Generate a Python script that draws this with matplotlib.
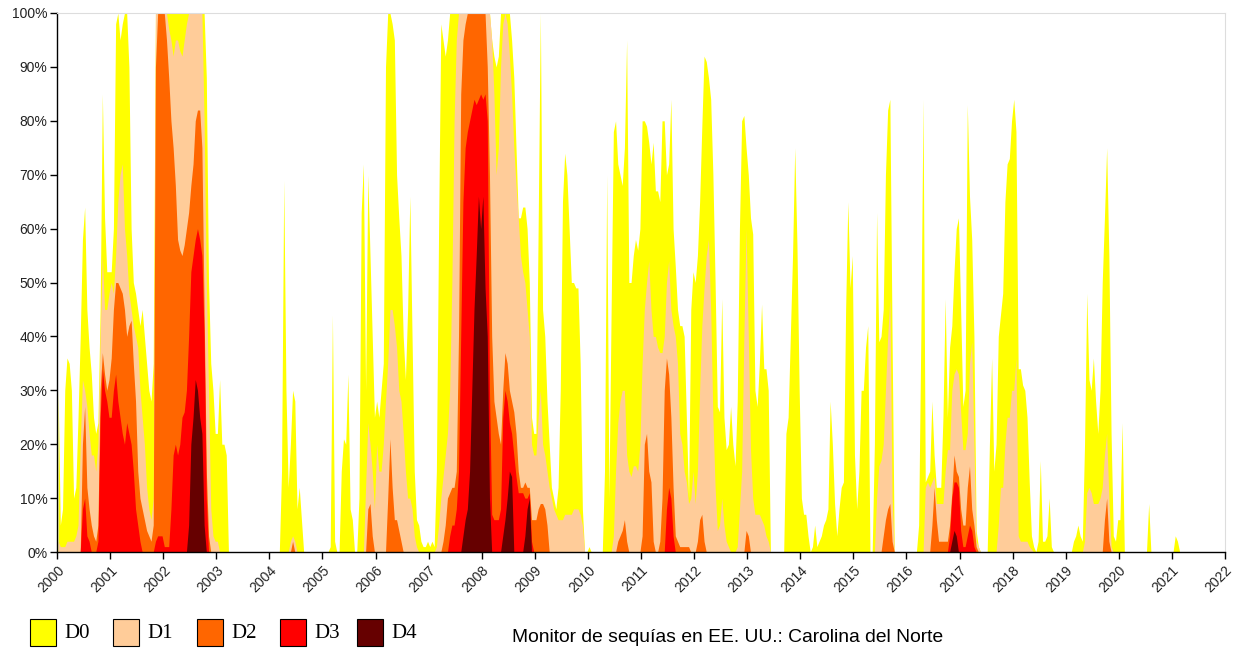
import numpy as np
import matplotlib
matplotlib.use("Agg")
from matplotlib import pyplot as plt
from matplotlib.patches import Rectangle

first_year = 2000
year_ticks = list(range(2000, 2023))
Z = [0] * 24

# % of North Carolina in drought category or worse, two readings per month (one row per year)
d0_rows = [
    [30, 5, 8, 30, 36, 35, 30, 10, 12, 25, 40, 58, 64, 45, 38, 33, 25, 22, 24, 45, 85, 62, 52, 52],  # 2000
    [52, 60, 98, 100, 95, 98, 100, 100, 90, 60, 50, 48, 45, 42, 45, 40, 35, 30, 28, 35, 100, 100, 100, 100],
    [100, 100, 100, 100, 100, 100, 100, 100, 100, 100, 100, 100, 100, 100, 100, 100, 100, 100, 100, 88, 50, 35, 30, 22],
    [22, 32, 20, 20, 18, 0, 0, 0, 0, 0, 0, 0, 0, 0, 0, 0, 0, 0, 0, 0, 0, 0, 0, 0],
    [0, 0, 0, 0, 0, 15, 69, 30, 12, 20, 30, 28, 8, 12, 6, 0, 0, 0, 0, 0, 0, 0, 0, 0],
    [0, 0, 0, 1, 44, 2, 0, 0, 15, 21, 20, 33, 8, 6, 0, 0, 10, 63, 72, 30, 70, 55, 40, 25],  # 2005
    [28, 25, 30, 35, 90, 100, 100, 98, 95, 70, 62, 55, 40, 32, 45, 66, 40, 15, 6, 5, 2, 1, 1, 2],
    [1, 2, 1, 15, 60, 98, 95, 92, 95, 100, 100, 100, 100, 100, 100, 100, 100, 100, 100, 100, 100, 100, 100, 100],
    [100, 100, 100, 100, 95, 92, 90, 92, 100, 100, 100, 100, 100, 95, 88, 75, 62, 62, 64, 64, 60, 50, 25, 22],
    [22, 60, 100, 45, 40, 28, 20, 12, 10, 8, 12, 30, 65, 74, 70, 60, 50, 50, 49, 49, 35, 8, 0, 0],
    [1, 0, 0, 0, 0, 0, 0, 15, 70, 10, 45, 78, 80, 72, 70, 68, 75, 95, 50, 50, 55, 58, 56, 60],  # 2010
    [80, 80, 79, 76, 72, 76, 67, 67, 65, 80, 80, 70, 72, 84, 60, 53, 45, 42, 42, 40, 25, 10, 45, 52],
    [50, 55, 65, 79, 92, 91, 88, 84, 70, 50, 27, 26, 47, 25, 19, 20, 27, 20, 16, 28, 60, 80, 81, 75],
    [70, 62, 59, 30, 27, 35, 46, 34, 34, 30, 0, 0, 0, 0, 0, 0, 0, 22, 25, 40, 55, 75, 57, 30],
    [10, 7, 7, 3, 0, 1, 5, 1, 2, 3, 5, 6, 8, 28, 20, 9, 3, 8, 12, 13, 45, 65, 49, 55],
    [18, 8, 15, 30, 30, 38, 42, 0, 0, 20, 63, 39, 40, 45, 70, 82, 84, 40, 0, 0, 0, 0, 0, 0],  # 2015
    [0, 0, 0, 0, 0, 5, 40, 84, 13, 14, 15, 28, 18, 12, 12, 12, 25, 47, 25, 38, 42, 52, 60, 62],
    [45, 27, 30, 83, 66, 58, 40, 4, 1, 0, 0, 0, 0, 20, 36, 15, 20, 40, 44, 48, 65, 72, 73, 80],
    [84, 78, 34, 34, 31, 30, 25, 13, 3, 1, 0, 2, 17, 2, 2, 3, 10, 1, 0, 0, 0, 0, 0, 0],
    [0, 0, 0, 2, 3, 5, 3, 2, 20, 48, 32, 30, 36, 28, 22, 30, 50, 62, 75, 55, 22, 3, 2, 6],
    [6, 24, 0, 0, 0, 0, 0, 0, 0, 0, 0, 0, 0, 9, 0, 0, 0, 0, 0, 0, 0, 0, 0, 0],  # 2020
    [0, 3, 2, 0, 0, 0, 0, 0, 0, 0, 0, 0, 0, 0, 0, 0, 0, 0, 0, 0, 0, 0, 0, 0],
]

d1_rows = [
    [2, 1, 1, 1, 2, 2, 2, 2, 3, 5, 20, 32, 30, 27, 22, 18, 18, 15, 20, 40, 55, 45, 45, 48],  # 2000
    [50, 48, 55, 65, 70, 72, 60, 55, 48, 45, 42, 40, 38, 30, 25, 20, 12, 8, 6, 10, 100, 100, 100, 100],
    [100, 100, 97, 95, 92, 95, 95, 93, 92, 95, 98, 100, 100, 100, 100, 100, 100, 100, 80, 50, 30, 8, 3, 2],
    [2, 0, 0, 0, 0, 0, 0, 0, 0, 0, 0, 0, 0, 0, 0, 0, 0, 0, 0, 0, 0, 0, 0, 0],
    [0, 0, 0, 0, 0, 0, 0, 0, 0, 2, 3, 2, 0, 0, 0, 0, 0, 0, 0, 0, 0, 0, 0, 0],
    [0, 0, 0, 0, 0, 0, 0, 0, 0, 0, 0, 0, 0, 0, 0, 0, 0, 0, 0, 12, 24, 20, 15, 8],  # 2005
    [20, 15, 15, 20, 28, 35, 45, 45, 42, 38, 30, 28, 22, 15, 10, 10, 8, 3, 1, 0, 0, 0, 0, 0],
    [0, 0, 0, 1, 5, 10, 14, 18, 22, 30, 50, 80, 95, 100, 100, 100, 100, 100, 100, 100, 100, 100, 100, 100],
    [100, 100, 100, 100, 95, 85, 70, 75, 90, 98, 100, 98, 92, 85, 75, 68, 62, 55, 52, 50, 45, 40, 20, 18],
    [18, 25, 30, 20, 18, 15, 12, 10, 8, 7, 6, 6, 6, 7, 7, 7, 7, 8, 8, 8, 7, 5, 0, 0],
    [0, 0, 0, 0, 0, 0, 0, 0, 0, 0, 0, 3, 15, 24, 28, 30, 30, 18, 15, 14, 16, 16, 15, 20],  # 2010
    [35, 45, 50, 54, 45, 40, 40, 38, 37, 37, 40, 50, 54, 45, 42, 40, 35, 22, 20, 15, 13, 9, 10, 15],
    [9, 15, 30, 42, 49, 55, 58, 45, 25, 12, 4, 5, 10, 5, 2, 1, 0, 0, 0, 1, 8, 15, 40, 60],
    [40, 19, 10, 7, 7, 7, 6, 5, 3, 2, 0, 0, 0, 0, 0, 0, 0, 0, 0, 0, 0, 0, 0, 0],
    Z,
    [0, 0, 0, 0, 0, 0, 0, 0, 0, 0, 10, 16, 17, 20, 30, 40, 47, 10, 0, 0, 0, 0, 0, 0],  # 2015
    [0, 0, 0, 0, 0, 0, 0, 0, 12, 13, 12, 13, 14, 9, 9, 9, 9, 15, 19, 19, 30, 33, 34, 33],
    [26, 19, 19, 22, 35, 39, 20, 2, 1, 0, 0, 0, 0, 0, 0, 0, 0, 5, 12, 12, 20, 25, 25, 30],
    [30, 36, 3, 2, 2, 2, 2, 1, 0.5, 0, 0, 0, 0, 0, 0, 0, 0, 0, 0, 0, 0, 0, 0, 0],
    [0, 0, 0, 0, 0, 0, 0, 0, 2, 11, 12, 11, 9, 9, 9, 10, 12, 18, 22, 10, 1, 0, 0, 0],
    Z,  # 2020
    Z,
]

d2_rows = [
    [0, 0, 0, 0, 0, 0, 0, 0, 0, 0, 0, 20, 27, 12, 8, 5, 3, 2, 5, 30, 37, 33, 30, 32],  # 2000
    [36, 45, 50, 50, 49, 48, 45, 40, 42, 43, 35, 28, 15, 10, 8, 6, 4, 3, 2, 5, 90, 100, 100, 100],
    [100, 95, 88, 80, 75, 68, 58, 56, 55, 57, 60, 63, 68, 72, 80, 82, 82, 75, 45, 15, 3, 0, 0, 0],
    Z,
    [0, 0, 0, 0, 0, 0, 0, 0, 0, 0, 2, 0, 0, 0, 0, 0, 0, 0, 0, 0, 0, 0, 0, 0],
    [0, 0, 0, 0, 0, 0, 0, 0, 0, 0, 0, 0, 0, 0, 0, 0, 0, 0, 0, 0, 8, 9, 3, 0],  # 2005
    [0, 0, 0, 0, 0, 10, 21, 12, 6, 6, 4, 2, 0, 0, 0, 0, 0, 0, 0, 0, 0, 0, 0, 0],
    [0, 0, 0, 0, 0, 0, 2, 5, 10, 11, 12, 12, 15, 40, 85, 95, 98, 100, 100, 100, 100, 100, 100, 100],
    [100, 100, 90, 70, 40, 28, 25, 22, 20, 30, 37, 35, 30, 28, 26, 22, 15, 12, 12, 13, 12, 12, 6, 6],
    [6, 8, 9, 9, 8, 5, 0, 0, 0, 0, 0, 0, 0, 0, 0, 0, 0, 0, 0, 0, 0, 0, 0, 0],
    [0, 0, 0, 0, 0, 0, 0, 0, 0, 0, 0, 0, 0, 2, 3, 4, 6, 2, 0, 0, 0, 0, 0, 0],  # 2010
    [3, 20, 22, 15, 13, 2, 0, 0, 2, 10, 30, 36, 33, 25, 12, 3, 2, 1, 1, 1, 1, 1, 0, 0],
    [0, 2, 6, 7, 2, 0, 0, 0, 0, 0, 0, 0, 0, 0, 0, 0, 0, 0, 0, 0, 0, 0, 0, 4],
    [3, 0, 0, 0, 0, 0, 0, 0, 0, 0, 0, 0, 0, 0, 0, 0, 0, 0, 0, 0, 0, 0, 0, 0],
    Z,
    [0, 0, 0, 0, 0, 0, 0, 0, 0, 0, 0, 0, 0, 3, 6, 8, 9, 2, 0, 0, 0, 0, 0, 0],  # 2015
    [0, 0, 0, 0, 0, 0, 0, 0, 0, 0, 0, 5, 12, 6, 2, 2, 2, 2, 2, 5, 11, 18, 15, 14],
    [8, 5, 5, 12, 16, 8, 5, 1, 0, 0, 0, 0, 0, 0, 0, 0, 0, 0, 0, 0, 0, 0, 0, 0],
    Z,
    [0, 0, 0, 0, 0, 0, 0, 0, 0, 0, 0, 0, 0, 0, 0, 0, 0, 6, 10, 2, 0, 0, 0, 0],
    Z,  # 2020
    Z,
]

d3_rows = [
    [0, 0, 0, 0, 0, 0, 0, 0, 0, 0, 0, 8, 10, 3, 2, 0, 0, 0, 2, 25, 34, 30, 28, 25],  # 2000
    [25, 30, 33, 28, 25, 22, 20, 24, 22, 20, 15, 8, 5, 2, 0, 0, 0, 0, 0, 0, 2, 3, 3, 3],
    [1, 1, 1, 8, 18, 20, 18, 20, 25, 26, 30, 40, 52, 55, 58, 60, 58, 55, 40, 10, 0, 0, 0, 0],
    Z, Z, Z, Z,
    [0, 0, 0, 0, 0, 0, 0, 0, 0, 3, 5, 5, 8, 15, 40, 65, 75, 78, 80, 82, 84, 83, 84, 85],  # 2007
    [84, 85, 80, 30, 7, 6, 6, 6, 8, 25, 30, 28, 24, 22, 18, 14, 11, 11, 11, 10, 10, 11, 2, 0],
    Z, Z,
    [0, 0, 0, 0, 0, 0, 0, 0, 0, 0, 0, 8, 12, 10, 3, 0, 0, 0, 0, 0, 0, 0, 0, 0],  # 2011
    Z, Z, Z, Z,
    [0, 0, 0, 0, 0, 0, 0, 0, 0, 0, 0, 0, 0, 0, 0, 0, 0, 0, 0, 3, 10, 13, 13, 12],  # 2016
    [4, 1, 1, 3, 5, 4, 1, 0, 0, 0, 0, 0, 0, 0, 0, 0, 0, 0, 0, 0, 0, 0, 0, 0],
    Z, Z, Z, Z,
]

d4_rows = [
    Z, Z,
    [0, 0, 0, 0, 0, 0, 0, 0, 0, 0, 0, 5, 20, 25, 32, 30, 25, 22, 5, 0, 0, 0, 0, 0],  # 2002
    Z, Z, Z, Z,
    [0, 0, 0, 0, 0, 0, 0, 0, 0, 0, 0, 0, 0, 0, 0, 3, 6, 8, 15, 30, 45, 55, 66, 60],  # 2007
    [66, 49, 40, 10, 0, 0, 0, 0, 0, 3, 6, 10, 15, 14, 0, 0, 0, 0, 0, 3, 8, 10, 0, 0],
    Z, Z, Z, Z, Z, Z, Z,
    [0, 0, 0, 0, 0, 0, 0, 0, 0, 0, 0, 0, 0, 0, 0, 0, 0, 0, 0, 0, 2, 4, 3, 0],  # 2016
    Z, Z, Z, Z, Z,
]

labels = ["D0", "D1", "D2", "D3", "D4"]
colors = ["#FFFF00", "#FFCC99", "#FF6600", "#FF0000", "#660000"]
caption = "Monitor de sequías en EE. UU.: Carolina del Norte"

d4 = np.array(d4_rows, dtype=float).ravel()
d3 = np.maximum(np.array(d3_rows, dtype=float).ravel(), d4)
d2 = np.maximum(np.array(d2_rows, dtype=float).ravel(), d3)
d1 = np.maximum(np.array(d1_rows, dtype=float).ravel(), d2)
d0 = np.maximum(np.array(d0_rows, dtype=float).ravel(), d1)
series = [d0, d1, d2, d3, d4]

x = first_year + (np.arange(d0.size) + 0.5) / 24.0

fig = plt.figure(figsize=(12.41, 6.5), dpi=100)
ax = fig.add_axes([57 / 1241, 98 / 650, 1168 / 1241, 539 / 650])

for vals, col in zip(series, colors):
    ax.fill_between(x, 0, vals, color=col, linewidth=0)

ax.set_xlim(2000, 2022)
ax.set_ylim(0, 100)
ax.set_yticks(range(0, 101, 10))
ax.set_yticklabels([f"{v}%" for v in range(0, 101, 10)], fontsize=10, family="Liberation Sans")
ax.set_xticks(year_ticks)
ax.set_xticklabels([str(y) for y in year_ticks], rotation=45, ha="right", va="top",
                   rotation_mode="anchor", fontsize=10, family="Liberation Sans")
ax.tick_params(direction="out", length=5, width=1, color="black", labelcolor="#222222")
ax.tick_params(axis="y", pad=2)
ax.tick_params(axis="x", pad=3)

for side in ["top", "right"]:
    ax.spines[side].set_color("#dddddd")
    ax.spines[side].set_linewidth(0.8)
for side in ["left", "bottom"]:
    ax.spines[side].set_color("black")
    ax.spines[side].set_linewidth(1.0)

# legend along the bottom
box_x = [30, 113, 197, 280, 357]
for bx, lab, col in zip(box_x, labels, colors):
    fig.patches.append(Rectangle((bx / 1241, 4 / 650), 26 / 1241, 27 / 650,
                                 transform=fig.transFigure, facecolor=col,
                                 edgecolor="black", linewidth=0.8))
    fig.text((bx + 34) / 1241, 17 / 650, lab, fontsize=15, family="Liberation Serif",
             va="center", ha="left")

fig.text(512 / 1241, 13 / 650, caption, fontsize=13.9, family="Liberation Sans",
         va="center", ha="left")

fig.savefig("out.png", dpi=100)
